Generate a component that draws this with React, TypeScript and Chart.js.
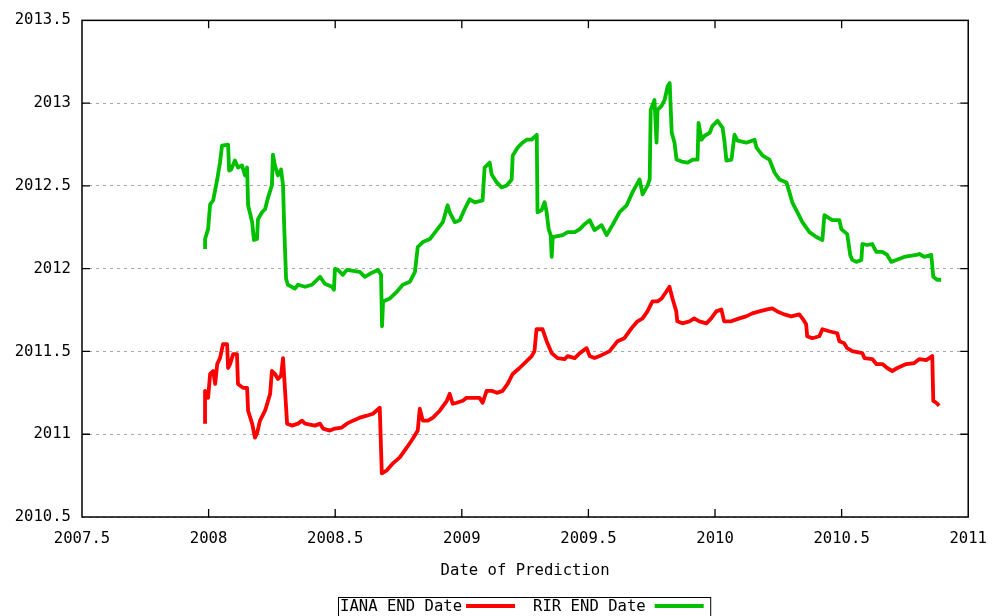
import React, { useEffect, useRef } from "react";
import { Chart, registerables } from "chart.js";

Chart.register(...registerables);

const seriesNames = ["IANA END Date", "RIR END Date"];
const seriesColors = ["#ff0000", "#00c000"];
const xTitle = "Date of Prediction";
const xTicks = [2007.5, 2008, 2008.5, 2009, 2009.5, 2010, 2010.5, 2011];
const yTicks = [2010.5, 2011, 2011.5, 2012, 2012.5, 2013, 2013.5];

const ianaDates = [
  2007.986, 2007.986, 2007.998, 2008.006, 2008.018, 2008.026, 2008.034, 2008.045, 2008.057, 2008.073,
  2008.077, 2008.085, 2008.097, 2008.112, 2008.116, 2008.136, 2008.152, 2008.156, 2008.172, 2008.183,
  2008.191, 2008.203, 2008.223, 2008.243, 2008.250, 2008.262, 2008.274, 2008.286, 2008.294, 2008.302,
  2008.310, 2008.329, 2008.353, 2008.369, 2008.381, 2008.420, 2008.440, 2008.452, 2008.479, 2008.499,
  2008.526, 2008.546, 2008.570, 2008.597, 2008.625, 2008.649, 2008.676, 2008.684, 2008.704, 2008.728,
  2008.755, 2008.783, 2008.807, 2008.826, 2008.834, 2008.846, 2008.866, 2008.886, 2008.913, 2008.941,
  2008.952, 2008.964, 2008.980, 2009.004, 2009.019, 2009.070, 2009.082, 2009.098, 2009.118, 2009.138,
  2009.161, 2009.181, 2009.201, 2009.228, 2009.256, 2009.276, 2009.287, 2009.295, 2009.319, 2009.335,
  2009.355, 2009.378, 2009.406, 2009.418, 2009.446, 2009.466, 2009.493, 2009.505, 2009.524, 2009.544,
  2009.584, 2009.615, 2009.642, 2009.670, 2009.694, 2009.714, 2009.733, 2009.753, 2009.773, 2009.789,
  2009.808, 2009.820, 2009.832, 2009.847, 2009.851, 2009.871, 2009.899, 2009.918, 2009.938, 2009.966,
  2009.985, 2010.005, 2010.025, 2010.036, 2010.064, 2010.096, 2010.123, 2010.147, 2010.175, 2010.206,
  2010.226, 2010.246, 2010.273, 2010.301, 2010.333, 2010.345, 2010.360, 2010.364, 2010.384, 2010.412,
  2010.424, 2010.451, 2010.483, 2010.491, 2010.510, 2010.522, 2010.542, 2010.582, 2010.590, 2010.621,
  2010.637, 2010.661, 2010.680, 2010.700, 2010.720, 2010.755, 2010.787, 2010.807, 2010.834, 2010.858,
  2010.862, 2010.874, 2010.885,
];

const ianaValues = [
  2011.064, 2011.262, 2011.220, 2011.364, 2011.382, 2011.304, 2011.424, 2011.460, 2011.544, 2011.544,
  2011.400, 2011.424, 2011.484, 2011.484, 2011.304, 2011.280, 2011.280, 2011.142, 2011.064, 2010.980,
  2011.004, 2011.082, 2011.142, 2011.244, 2011.382, 2011.364, 2011.334, 2011.352, 2011.460, 2011.262,
  2011.064, 2011.052, 2011.064, 2011.082, 2011.064, 2011.052, 2011.064, 2011.034, 2011.022, 2011.034,
  2011.040, 2011.064, 2011.082, 2011.100, 2011.112, 2011.124, 2011.160, 2010.764, 2010.782, 2010.824,
  2010.860, 2010.920, 2010.974, 2011.022, 2011.154, 2011.082, 2011.082, 2011.100, 2011.142, 2011.202,
  2011.244, 2011.184, 2011.190, 2011.202, 2011.220, 2011.220, 2011.190, 2011.262, 2011.262, 2011.250,
  2011.262, 2011.304, 2011.364, 2011.400, 2011.442, 2011.472, 2011.502, 2011.634, 2011.634, 2011.562,
  2011.490, 2011.460, 2011.454, 2011.472, 2011.460, 2011.490, 2011.520, 2011.472, 2011.460, 2011.472,
  2011.502, 2011.562, 2011.580, 2011.640, 2011.682, 2011.700, 2011.742, 2011.802, 2011.802, 2011.820,
  2011.862, 2011.891, 2011.820, 2011.742, 2011.682, 2011.670, 2011.682, 2011.700, 2011.682, 2011.670,
  2011.700, 2011.742, 2011.754, 2011.682, 2011.682, 2011.700, 2011.712, 2011.730, 2011.742, 2011.754,
  2011.760, 2011.742, 2011.724, 2011.712, 2011.724, 2011.700, 2011.664, 2011.592, 2011.580, 2011.592,
  2011.634, 2011.622, 2011.610, 2011.562, 2011.550, 2011.520, 2011.502, 2011.490, 2011.460, 2011.454,
  2011.424, 2011.424, 2011.400, 2011.382, 2011.400, 2011.424, 2011.430, 2011.454, 2011.448, 2011.472,
  2011.202, 2011.190, 2011.172,
];

const rirDates = [
  2007.986, 2007.986, 2007.998, 2008.006, 2008.018, 2008.034, 2008.045, 2008.053, 2008.077, 2008.081,
  2008.089, 2008.104, 2008.116, 2008.132, 2008.144, 2008.152, 2008.156, 2008.172, 2008.179, 2008.191,
  2008.195, 2008.211, 2008.223, 2008.235, 2008.250, 2008.254, 2008.262, 2008.274, 2008.286, 2008.294,
  2008.298, 2008.306, 2008.313, 2008.341, 2008.353, 2008.381, 2008.408, 2008.440, 2008.459, 2008.487,
  2008.495, 2008.499, 2008.511, 2008.530, 2008.546, 2008.597, 2008.617, 2008.637, 2008.669, 2008.681,
  2008.685, 2008.689, 2008.716, 2008.744, 2008.767, 2008.795, 2008.815, 2008.826, 2008.846, 2008.874,
  2008.901, 2008.925, 2008.944, 2008.952, 2008.972, 2008.992, 2009.011, 2009.031, 2009.051, 2009.082,
  2009.090, 2009.110, 2009.118, 2009.138, 2009.157, 2009.177, 2009.197, 2009.201, 2009.220, 2009.240,
  2009.256, 2009.276, 2009.296, 2009.299, 2009.315, 2009.327, 2009.335, 2009.343, 2009.351, 2009.355,
  2009.359, 2009.398, 2009.418, 2009.446, 2009.466, 2009.485, 2009.505, 2009.524, 2009.552, 2009.572,
  2009.595, 2009.623, 2009.651, 2009.674, 2009.702, 2009.714, 2009.734, 2009.742, 2009.746, 2009.761,
  2009.769, 2009.773, 2009.789, 2009.801, 2009.813, 2009.821, 2009.829, 2009.840, 2009.848, 2009.868,
  2009.892, 2009.912, 2009.931, 2009.935, 2009.947, 2009.959, 2009.979, 2009.990, 2010.010, 2010.030,
  2010.038, 2010.045, 2010.065, 2010.077, 2010.089, 2010.124, 2010.156, 2010.164, 2010.188, 2010.215,
  2010.235, 2010.254, 2010.282, 2010.294, 2010.305, 2010.325, 2010.345, 2010.373, 2010.400, 2010.424,
  2010.432, 2010.463, 2010.491, 2010.499, 2010.522, 2010.534, 2010.542, 2010.558, 2010.578, 2010.582,
  2010.601, 2010.621, 2010.637, 2010.661, 2010.680, 2010.696, 2010.716, 2010.747, 2010.795, 2010.807,
  2010.826, 2010.854, 2010.862, 2010.877, 2010.893,
];

const rirValues = [
  2012.119, 2012.179, 2012.239, 2012.389, 2012.413, 2012.539, 2012.641, 2012.743, 2012.749, 2012.593,
  2012.599, 2012.653, 2012.611, 2012.623, 2012.563, 2012.611, 2012.383, 2012.281, 2012.173, 2012.179,
  2012.299, 2012.341, 2012.359, 2012.431, 2012.503, 2012.689, 2012.623, 2012.563, 2012.599, 2012.503,
  2012.281, 2011.939, 2011.903, 2011.879, 2011.903, 2011.891, 2011.903, 2011.951, 2011.909, 2011.891,
  2011.873, 2011.999, 2011.993, 2011.963, 2011.993, 2011.981, 2011.951, 2011.969, 2011.993, 2011.963,
  2011.652, 2011.802, 2011.820, 2011.862, 2011.903, 2011.921, 2011.981, 2012.131, 2012.161, 2012.179,
  2012.233, 2012.281, 2012.383, 2012.341, 2012.281, 2012.293, 2012.359, 2012.419, 2012.401, 2012.413,
  2012.611, 2012.641, 2012.569, 2012.521, 2012.491, 2012.503, 2012.539, 2012.683, 2012.731, 2012.761,
  2012.779, 2012.779, 2012.809, 2012.341, 2012.353, 2012.401, 2012.341, 2012.239, 2012.203, 2012.071,
  2012.191, 2012.203, 2012.221, 2012.221, 2012.239, 2012.269, 2012.293, 2012.233, 2012.263, 2012.203,
  2012.263, 2012.341, 2012.383, 2012.461, 2012.539, 2012.449, 2012.503, 2012.539, 2012.959, 2013.019,
  2012.761, 2012.959, 2012.983, 2013.019, 2013.103, 2013.121, 2012.821, 2012.761, 2012.659, 2012.647,
  2012.641, 2012.659, 2012.659, 2012.881, 2012.779, 2012.803, 2012.821, 2012.863, 2012.893, 2012.851,
  2012.761, 2012.653, 2012.659, 2012.809, 2012.773, 2012.761, 2012.779, 2012.731, 2012.683, 2012.659,
  2012.581, 2012.539, 2012.521, 2012.461, 2012.401, 2012.341, 2012.281, 2012.221, 2012.191, 2012.173,
  2012.323, 2012.293, 2012.293, 2012.239, 2012.209, 2012.083, 2012.053, 2012.041, 2012.053, 2012.149,
  2012.143, 2012.149, 2012.101, 2012.101, 2012.083, 2012.041, 2012.053, 2012.071, 2012.083, 2012.089,
  2012.071, 2012.083, 2011.951, 2011.933, 2011.933,
];

const FONT_FAMILY = "'DejaVu Sans Mono', 'Liberation Mono', monospace";
const FONT_SIZE = 15.6;

const toPoints = (xs: number[], ys: number[]) => xs.map((x, i) => ({ x, y: ys[i] }));

const framePlugin = {
  id: "gnuplotFrame",
  afterDraw(chart: any) {
    const { ctx, chartArea: a, scales } = chart;
    ctx.save();
    // frame
    ctx.strokeStyle = "#000";
    ctx.lineWidth = 1.5;
    ctx.strokeRect(a.left, a.top, a.right - a.left, a.bottom - a.top);
    // inward ticks (mirrored)
    const tl = 8;
    ctx.lineWidth = 1.3;
    ctx.beginPath();
    for (const v of xTicks) {
      const px = scales.x.getPixelForValue(v);
      if (px <= a.left + 1 || px >= a.right - 1) continue;
      ctx.moveTo(px, a.bottom);
      ctx.lineTo(px, a.bottom - tl);
      ctx.moveTo(px, a.top);
      ctx.lineTo(px, a.top + tl);
    }
    for (const v of yTicks) {
      const py = scales.y.getPixelForValue(v);
      if (py <= a.top + 1 || py >= a.bottom - 1) continue;
      ctx.moveTo(a.left, py);
      ctx.lineTo(a.left + tl, py);
      ctx.moveTo(a.right, py);
      ctx.lineTo(a.right - tl, py);
    }
    ctx.stroke();

    // legend (gnuplot style: text then sample line, boxed)
    ctx.font = `${FONT_SIZE}px ${FONT_FAMILY}`;
    ctx.textBaseline = "middle";
    ctx.textAlign = "left";
    const boxLeft = 338.5;
    const boxTop = 597.5;
    const textY = 607;
    const sampleLen = 49;
    let x = boxLeft + 1.5;
    const widths = seriesNames.map((n) => ctx.measureText(n).width);
    seriesNames.forEach((name, i) => {
      ctx.fillStyle = "#000";
      ctx.fillText(name, x, textY);
      x += widths[i] + (i === 0 ? 4 : 9);
      ctx.strokeStyle = seriesColors[i];
      ctx.lineWidth = 4;
      ctx.beginPath();
      ctx.moveTo(x, textY - 1);
      ctx.lineTo(x + sampleLen, textY - 1);
      ctx.stroke();
      x += sampleLen + (i === 0 ? 18 : 7);
    });
    ctx.strokeStyle = "#000";
    ctx.lineWidth = 1;
    ctx.strokeRect(boxLeft, boxTop, x - boxLeft, 40);
    ctx.restore();
  },
};

export default function App() {
  const canvasRef = useRef<HTMLCanvasElement | null>(null);

  useEffect(() => {
    if (!canvasRef.current) return;
    const font = { family: FONT_FAMILY, size: FONT_SIZE };
    const chart = new Chart(canvasRef.current, {
      type: "line",
      data: {
        datasets: [
          {
            label: seriesNames[0],
            data: toPoints(ianaDates, ianaValues),
            borderColor: seriesColors[0],
            backgroundColor: seriesColors[0],
            borderWidth: 3.8,
            pointRadius: 0,
            tension: 0,
            fill: false,
            borderJoinStyle: "round",
          },
          {
            label: seriesNames[1],
            data: toPoints(rirDates, rirValues),
            borderColor: seriesColors[1],
            backgroundColor: seriesColors[1],
            borderWidth: 3.8,
            pointRadius: 0,
            tension: 0,
            fill: false,
            borderJoinStyle: "round",
          },
        ],
      },
      options: {
        responsive: false,
        animation: false,
        devicePixelRatio: 1,
        layout: { padding: { left: 0, right: 31, top: 17, bottom: 0 } },
        plugins: {
          legend: { display: false },
          tooltip: { enabled: false },
        },
        scales: {
          x: {
            type: "linear",
            min: xTicks[0],
            max: xTicks[xTicks.length - 1],
            afterBuildTicks: (s: any) => {
              s.ticks = xTicks.map((value) => ({ value }));
            },
            afterFit: (s: any) => {
              s.height = 99;
            },
            ticks: {
              callback: (v: any) => String(v),
              color: "#000",
              font,
              padding: 13,
              maxRotation: 0,
              autoSkip: false,
            },
            grid: { display: false, drawTicks: false },
            border: { display: false },
            title: {
              display: true,
              text: xTitle,
              color: "#000",
              font,
              padding: { top: 0, bottom: 36 },
            },
          },
          y: {
            type: "linear",
            min: yTicks[0],
            max: yTicks[yTicks.length - 1],
            afterBuildTicks: (s: any) => {
              s.ticks = yTicks.map((value) => ({ value }));
            },
            afterFit: (s: any) => {
              s.width = 82;
            },
            ticks: {
              callback: (v: any) => String(v),
              color: "#000",
              font,
              padding: 11,
              autoSkip: false,
            },
            grid: { color: "#a8a8a8", lineWidth: 1, drawTicks: false },
            border: { display: false, dash: [3, 4] },
          },
        },
      },
      plugins: [framePlugin],
    });
    return () => chart.destroy();
  }, []);

  return (
    <div style={{ position: "fixed", left: 0, top: 0, width: 1000, height: 616, background: "#fff" }}>
      <canvas ref={canvasRef} width={1000} height={616} style={{ display: "block" }} />
    </div>
  );
}
